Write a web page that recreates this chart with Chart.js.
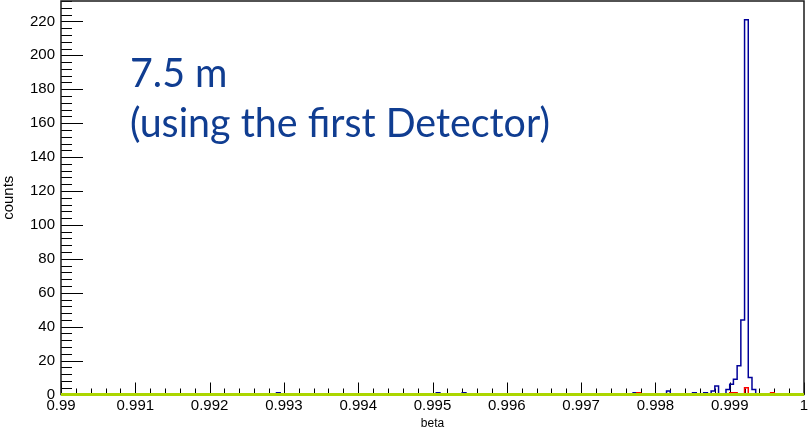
<!DOCTYPE html>
<html>
<head>
<meta charset="utf-8">
<script src="https://cdn.jsdelivr.net/npm/chart.js@4"></script>
<style>
  html, body { margin: 0; padding: 0; background: #ffffff; }
  #wrap { width: 808px; height: 433px; }
</style>
</head>
<body>
<div id="wrap"><canvas id="c" width="808" height="433"></canvas></div>
<script>
// beta histogram: 200 equal bins between 0.99 and 1.0
const betaMin = 0.99;
const betaMax = 1.0;
const binCount = 200;

// Filled bins, given by their lower edge in beta, with their counts
const blueLowEdges = [0.99295, 0.9951, 0.99545, 0.99775, 0.9982, 0.99855, 0.9987, 0.9988, 0.99885,
                      0.999, 0.99905, 0.9991, 0.99915, 0.9992, 0.99925, 0.9993, 0.99935];
const blueCounts   = [1, 1, 1, 1, 2, 1, 1, 2, 5,
                      3, 6, 9, 17, 44, 221, 10, 3];

const redLowEdges = [0.9978, 0.99905, 0.9991, 0.99925, 0.9996];
const redCounts   = [1, 1, 1, 4, 1];

// third sample has no entries in this range
const greenLowEdges = [];
const greenCounts   = [];

const xTickValues = [0.99, 0.991, 0.992, 0.993, 0.994, 0.995, 0.996, 0.997, 0.998, 0.999, 1.0];
const xTickLabels = ['0.99', '0.991', '0.992', '0.993', '0.994', '0.995', '0.996', '0.997', '0.998', '0.999', '1'];
const yTickValues = [0, 20, 40, 60, 80, 100, 120, 140, 160, 180, 200, 220];
const yMax = 232.05;

const noteLines = ['7.5 m', '(using the first Detector)'];

// Turn sparse bins into a stepped outline over the full range
function histPoints(lowEdges, counts) {
  const w = (betaMax - betaMin) / binCount;
  const bins = new Array(binCount).fill(0);
  lowEdges.forEach((e, i) => {
    const k = Math.round((e - betaMin) / w);
    bins[k] += counts[i];
  });
  const pts = bins.map((c, k) => ({ x: betaMin + k * w, y: c }));
  pts.push({ x: betaMax, y: bins[binCount - 1] });
  return pts;
}

// Empty stretches of an outline run along zero, under the green baseline
const hideEmptyRuns = {
  borderColor: c => (c.p0.parsed.y === 0 && c.p1.parsed.y === 0) ? 'rgba(0,0,0,0)' : undefined
};

// Inner tick marks (major + minor) and the frame box
const frameTicks = {
  id: 'frameTicks',
  beforeDatasetsDraw(chart) {
    const { ctx, chartArea: a, scales: { x, y } } = chart;
    ctx.save();
    ctx.strokeStyle = '#000000';
    ctx.lineWidth = 1;
    const vLine = (px, len) => {
      const xx = Math.round(px) + 0.5;
      ctx.beginPath(); ctx.moveTo(xx, a.bottom); ctx.lineTo(xx, a.bottom - len); ctx.stroke();
    };
    const hLine = (py, len) => {
      const yy = Math.round(py) + 0.5;
      ctx.beginPath(); ctx.moveTo(a.left, yy); ctx.lineTo(a.left + len, yy); ctx.stroke();
    };
    for (let i = 0; i < xTickValues.length; i++) {
      const v = xTickValues[i];
      vLine(x.getPixelForValue(v), 12);
      if (i < xTickValues.length - 1) {
        const step = (xTickValues[i + 1] - v) / 5;
        for (let j = 1; j < 5; j++) vLine(x.getPixelForValue(v + j * step), 6);
      }
    }
    const yStep = (yTickValues[1] - yTickValues[0]) / 5;
    for (let n = 0; n * yStep <= yMax; n++) {
      hLine(y.getPixelForValue(n * yStep), n % 5 === 0 ? 22 : 11);
    }
    ctx.lineWidth = 1.5;
    ctx.strokeStyle = '#1a1a1a';
    ctx.strokeRect(a.left, a.top, a.right - a.left, a.bottom - a.top);
    ctx.restore();
  },
  afterDraw(chart) {
    const { ctx } = chart;
    ctx.save();
    ctx.fillStyle = '#103d91';
    ctx.font = '40px Lato';
    ctx.textBaseline = 'alphabetic';
    const sx = 420 / ctx.measureText(noteLines[1]).width;
    const baselines = [87, 137];
    noteLines.forEach((t, i) => {
      ctx.save();
      ctx.translate(130, baselines[i]);
      ctx.scale(sx, 1);
      ctx.fillText(t, 0, 0);
      ctx.restore();
    });
    ctx.restore();
  }
};

const tickFont = { family: '"Liberation Sans", Arial, sans-serif', size: 15 };
const fontFamily = '"Liberation Sans", Arial, sans-serif';

new Chart(document.getElementById('c'), {
  type: 'line',
  data: {
    datasets: [
      { label: 'blue', order: 3, data: histPoints(blueLowEdges, blueCounts), borderColor: 'rgb(0,0,153)', borderWidth: 1.5, stepped: 'after', pointRadius: 0, fill: false, segment: hideEmptyRuns },
      { label: 'red', order: 2, data: histPoints(redLowEdges, redCounts), borderColor: 'rgb(255,0,0)', borderWidth: 1.5, stepped: 'after', pointRadius: 0, fill: false, segment: hideEmptyRuns },
      { label: 'green', order: 1, clip: false, data: histPoints(greenLowEdges, greenCounts), borderColor: 'rgb(172,214,0)', borderWidth: 3, stepped: 'after', pointRadius: 0, fill: false }
    ]
  },
  options: {
    responsive: false,
    animation: false,
    devicePixelRatio: 1,
    layout: { padding: { top: 1, right: 4, left: 0, bottom: 0 } },
    plugins: { legend: { display: false }, tooltip: { enabled: false } },
    scales: {
      x: {
        type: 'linear',
        min: betaMin,
        max: betaMax,
        grid: { display: false, drawTicks: false },
        border: { display: false },
        afterBuildTicks: s => { s.ticks = xTickValues.map(v => ({ value: v })); },
        afterFit: s => { s.height = 38.5; s.paddingLeft = 0; s.paddingRight = 0; },
        ticks: {
          autoSkip: false, maxRotation: 0, padding: 2, color: '#000',
          font: tickFont,
          callback: (v, i) => xTickLabels[i]
        },
        title: { display: true, text: 'beta', color: '#000', font: { family: fontFamily, size: 12 }, padding: { top: 0, bottom: 2 } }
      },
      y: {
        min: 0,
        max: yMax,
        grid: { display: false, drawTicks: false },
        border: { display: false },
        afterBuildTicks: s => { s.ticks = yTickValues.map(v => ({ value: v })); },
        afterFit: s => { s.width = 61; s.paddingTop = 0; s.paddingBottom = 0; },
        ticks: { padding: 6, color: '#000', font: tickFont, callback: v => String(v) },
        title: { display: true, text: 'counts', color: '#000', font: { family: fontFamily, size: 15, lineHeight: 1 }, padding: { top: 1, bottom: 0 } }
      }
    }
  },
  plugins: [frameTicks]
});
</script>
</body>
</html>
